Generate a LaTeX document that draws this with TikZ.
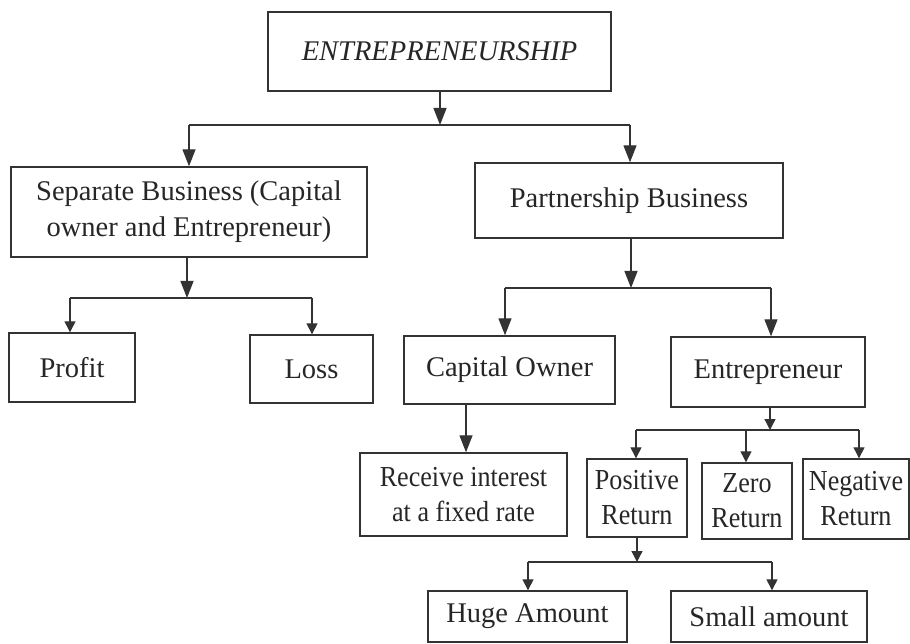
\documentclass[tikz,border=0pt]{standalone}
\usepackage{fontspec}
\setmainfont{Liberation Serif}
\newfontfamily\narrowserif[FakeStretch=0.9]{Liberation Serif}
\usetikzlibrary{arrows.meta}
\definecolor{ink}{HTML}{333333}
\definecolor{txt}{HTML}{262626}
\begin{document}
\begin{tikzpicture}[x=1pt,y=-1pt,
  box/.style={draw=ink, line width=1.4pt, inner sep=0pt, align=center, text=txt,
    font=\fontsize{28.5}{36}\selectfont},
  narrowbox/.style={box, font=\narrowserif\fontsize{29}{35}\selectfont},
  wire/.style={draw=ink, line width=1.3pt},
  bigtip/.style={wire, -{Triangle[length=17pt,width=13pt]}},
  smalltip/.style={wire, -{Triangle[length=11pt,width=11pt]}}]
\useasboundingbox (0,0) rectangle (910,644);

% boxes
\node[box, line width=1.8pt, minimum width=343pt, minimum height=79pt] (ent) at (439.5,51.5) {\itshape ENTREPRENEURSHIP};
\node[box, minimum width=356pt, minimum height=90pt] (sep) at (189,212) {Separate Business (Capital\\owner and Entrepreneur)};
\node[box, minimum width=308pt, minimum height=75pt] (part) at (629,200.5) {Partnership Business};
\node[box, minimum width=126pt, minimum height=69pt] (profit) at (72,367.5) {Profit};
\node[box, minimum width=123pt, minimum height=68pt] (loss) at (311.5,369) {Loss};
\node[box, minimum width=211pt, minimum height=68pt] (capown) at (509.5,370) {Capital Owner};
\node[box, minimum width=194pt, minimum height=70pt] (entr) at (768,372) {Entrepreneur};
\node[narrowbox, minimum width=207pt, minimum height=83pt] (recv) at (463.5,494.5) {Receive interest\\at a fixed rate};
\node[narrowbox, minimum width=100pt, minimum height=78pt] (pos) at (637,498) {Positive\\Return};
\node[narrowbox, minimum width=90pt, minimum height=76pt] (zero) at (747,501) {Zero\\Return};
\node[narrowbox, minimum width=106pt, minimum height=80pt] (neg) at (856,499) {Negative\\Return};
\node[box, minimum width=199pt, minimum height=51pt] (huge) at (527.5,616.5) {Huge Amount};
\node[box, minimum width=196pt, minimum height=51pt] (small) at (769,616.5) {Small amount};

% bus points
\coordinate (b1) at (440,125);
\coordinate (b1l) at (189,125);
\coordinate (b1r) at (630,125);
\coordinate (b2) at (187,298);
\coordinate (b2l) at (70,298);
\coordinate (b2r) at (312,298);
\coordinate (b3) at (631,288);
\coordinate (b3l) at (505,288);
\coordinate (b3r) at (771,288);
\coordinate (b4) at (770,430);
\coordinate (b4l) at (636,430);
\coordinate (b4m) at (746,430);
\coordinate (b4r) at (859,430);
\coordinate (b5) at (637,562);
\coordinate (b5l) at (528,562);
\coordinate (b5r) at (772,562);
\coordinate (cx) at (466,0);

% level 1
\draw[bigtip] (b1 |- ent.south) -- (b1);
\draw[wire] (b1l) -- (b1r);
\draw[bigtip] (b1l) -- (b1l |- sep.north);
\draw[bigtip] (b1r) -- (b1r |- part.north);

% separate business
\draw[bigtip] (b2 |- sep.south) -- (b2);
\draw[wire] (b2l) -- (b2r);
\draw[smalltip] (b2l) -- (b2l |- profit.north);
\draw[smalltip] (b2r) -- (b2r |- loss.north);

% partnership business
\draw[bigtip] (b3 |- part.south) -- (b3);
\draw[wire] (b3l) -- (b3r);
\draw[bigtip] (b3l) -- (b3l |- capown.north);
\draw[bigtip] (b3r) -- (b3r |- entr.north);

% capital owner
\draw[bigtip] (cx |- capown.south) -- (cx |- recv.north);

% entrepreneur
\draw[smalltip] (b4 |- entr.south) -- (b4);
\draw[wire] (b4l) -- (b4r);
\draw[smalltip] (b4l) -- (b4l |- pos.north);
\draw[smalltip] (b4m) -- (b4m |- zero.north);
\draw[smalltip] (b4r) -- (b4r |- neg.north);

% positive return
\draw[smalltip] (b5 |- pos.south) -- (b5);
\draw[wire] (b5l) -- (b5r);
\draw[smalltip] (b5l) -- (b5l |- huge.north);
\draw[smalltip] (b5r) -- (b5r |- small.north);
\end{tikzpicture}
\end{document}
